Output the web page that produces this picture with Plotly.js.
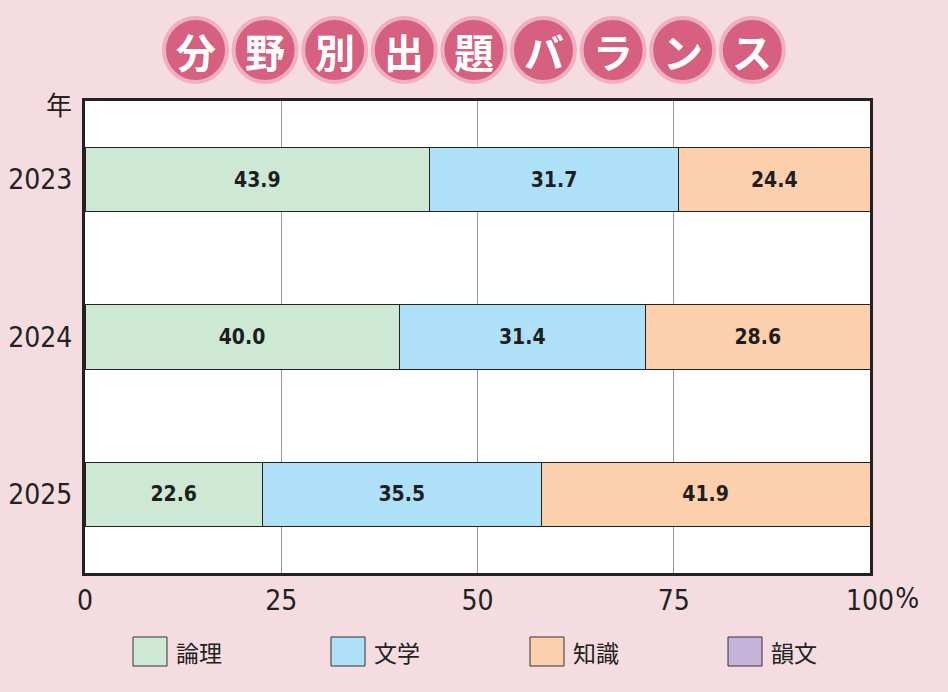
<!DOCTYPE html>
<html>
<head>
<meta charset="utf-8">
<script src="https://cdn.plot.ly/plotly-3.0.1.min.js"></script>
<style>
html,body{margin:0;padding:0;background:#f4dce1;}
#chart{width:948px;height:692px;}
#chart .xtick text, #chart .ytick text, #chart .bartext, #chart .annotation-text.numtxt { font-stretch: condensed; }
#chart .annotation text { font-stretch: condensed; }
</style>
</head>
<body>
<div id="chart"></div>
<script>
// ---- data ----
const years = ['2023', '2024', '2025'];
const seriesNames = ['論理', '文学', '知識', '韻文'];
const ronri = [43.9, 40.0, 22.6];
const bungaku = [31.7, 31.4, 35.5];
const chishiki = [24.4, 28.6, 41.9];
const inbun = [0, 0, 0];
const xTickVals = [0, 25, 50, 75, 100];
const xTickText = ['0', '25', '50', '75', '100'];
const titleChars = ['分', '野', '別', '出', '題', 'バ', 'ラ', 'ン', 'ス'];
const yAxisLabel = '年';
const unitLabel = '%';

// ---- styling ----
const colors = ['#cee8d6', '#aee0f8', '#fdd0ad', '#c6b3d9'];
const numFont = "'DejaVu Sans', sans-serif";
const cjkFont = "'Noto Sans CJK JP', 'Noto Sans', sans-serif";
const W = 948, H = 692;
const L = 85, R = 870, T = 101, B = 573;
const px = x => (x - L) / (R - L);
const py = y => (B - y) / (B - T);

const seriesValues = [ronri, bungaku, chishiki, inbun];
const traces = seriesValues.map((vals, i) => ({
  type: 'bar',
  orientation: 'h',
  name: seriesNames[i],
  y: years,
  x: vals,
  width: 0.41,
  marker: {color: colors[i], line: {color: '#222', width: 1}},
  texttemplate: i < 3 ? '%{x:.1f}' : '',
  textposition: i < 3 ? 'inside' : 'none',
  insidetextanchor: 'middle',
  textangle: 0,
  constraintext: 'none',
  textfont: {family: numFont, size: 21, color: '#1e1e1e', weight: 'bold'},
  hoverinfo: 'skip',
  showlegend: false
}));

const shapes = [];
const annotations = [];

// title circles
const c0 = 195.5, step = 69.6, cy = 50, rx = 31.5, ry = 32;
titleChars.forEach((ch, i) => {
  const cx = c0 + i * step;
  shapes.push({
    type: 'circle', xref: 'paper', yref: 'paper',
    x0: px(cx - rx), x1: px(cx + rx), y0: py(cy + ry), y1: py(cy - ry),
    fillcolor: '#d5607f', line: {color: '#f0aec1', width: 4}, layer: 'above'
  });
  annotations.push({
    xref: 'paper', yref: 'paper', x: px(cx), y: py(cy + 1),
    text: ch, showarrow: false, xanchor: 'center', yanchor: 'middle',
    font: {family: cjkFont, size: 40, color: '#ffffff', weight: 'bold'}
  });
});

// legend (custom)
const legX = [133, 331, 530, 728];
seriesNames.forEach((nm, i) => {
  shapes.push({
    type: 'rect', xref: 'paper', yref: 'paper',
    x0: px(legX[i]), x1: px(legX[i] + 34), y0: py(666), y1: py(637),
    fillcolor: colors[i], line: {color: '#333', width: 1}
  });
  annotations.push({
    xref: 'paper', yref: 'paper', x: px(legX[i] + 41), y: py(652),
    text: nm, showarrow: false, xanchor: 'left', yanchor: 'middle',
    font: {family: cjkFont, size: 23, color: '#222'}
  });
});

// axis unit labels
annotations.push({
  xref: 'paper', yref: 'paper', x: px(59), y: py(103),
  text: yAxisLabel, showarrow: false, xanchor: 'center', yanchor: 'middle',
  font: {family: cjkFont, size: 26, color: '#222'}
});
annotations.push({
  xref: 'paper', yref: 'paper', x: px(893), y: py(598),
  text: unitLabel, showarrow: false, xanchor: 'left', yanchor: 'middle',
  borderpad: 0,
  font: {family: numFont, size: 28, color: '#222'}
});

const layout = {
  width: W, height: H,
  paper_bgcolor: '#f4dce1',
  plot_bgcolor: '#ffffff',
  margin: {l: L, r: W - R, t: T, b: H - B, pad: 0},
  barmode: 'stack',
  bargap: 0,
  showlegend: false,
  xaxis: {
    range: [0, 100], tickvals: xTickVals, ticktext: xTickText,
    showgrid: true, gridcolor: '#9a9a9a', gridwidth: 1,
    zeroline: false, showline: true, mirror: true, linecolor: '#222', linewidth: 3,
    ticks: '', ticklabelstandoff: 0,
    tickfont: {family: numFont, size: 28, color: '#222'},
    fixedrange: true
  },
  yaxis: {
    type: 'category', categoryorder: 'array', categoryarray: years,
    range: [2.5, -0.5], autorange: false,
    showgrid: false, zeroline: false, showline: true, mirror: true,
    linecolor: '#222', linewidth: 3, ticks: '', ticklabelstandoff: 4,
    tickfont: {family: numFont, size: 28, color: '#222'},
    fixedrange: true
  },
  shapes: shapes,
  annotations: annotations
};

Plotly.newPlot('chart', traces, layout, {displayModeBar: false, staticPlot: true});
</script>
</body>
</html>
